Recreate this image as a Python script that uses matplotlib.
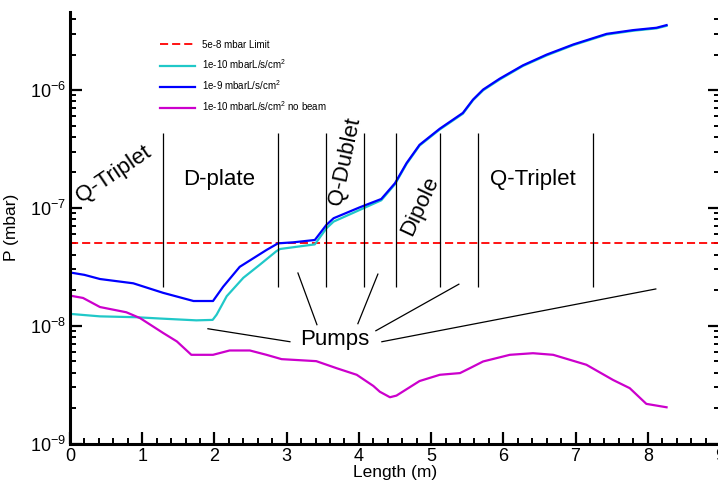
import numpy as np
import matplotlib
matplotlib.use("Agg")
import matplotlib.pyplot as plt
from matplotlib.ticker import MultipleLocator, LogLocator

plt.rcParams['font.family'] = ['Liberation Sans', 'DejaVu Sans']
plt.rcParams['mathtext.fontset'] = 'custom'
plt.rcParams['mathtext.rm'] = 'Liberation Sans'
plt.rcParams['mathtext.it'] = 'Liberation Sans:italic'
plt.rcParams['mathtext.bf'] = 'Liberation Sans:bold'

# pressure profiles along the beamline
blue_x = [0, 0.2, 0.415, 0.876, 1.29, 1.71, 1.98, 2.12, 2.35, 2.72, 2.88, 3.09, 3.39,
          3.55, 3.65, 4.01, 4.31, 4.50, 4.66, 4.84, 5.12, 5.44, 5.58, 5.72, 5.95,
          6.27, 6.60, 6.97, 7.43, 7.80, 8.12, 8.26]
blue_y = [2.83e-8, 2.7e-8, 2.49e-8, 2.29e-8, 1.90e-8, 1.62e-8, 1.62e-8, 2.14e-8, 3.16e-8,
          4.39e-8, 5.0e-8, 5.1e-8, 5.34e-8, 7.17e-8, 8.17e-8, 1.01e-7, 1.19e-7, 1.62e-7,
          2.40e-7, 3.43e-7, 4.7e-7, 6.4e-7, 8.3e-7, 1.01e-6, 1.25e-6, 1.62e-6, 2.0e-6,
          2.44e-6, 3.0e-6, 3.23e-6, 3.38e-6, 3.56e-6]

cyan_x = [0, 0.415, 0.92, 1.25, 1.75, 1.975, 2.03, 2.17, 2.40, 2.63, 2.86, 2.91, 3.39,
          3.55, 3.65, 4.01, 4.31, 4.50, 4.66, 4.84, 5.12, 5.44, 5.58, 5.72, 5.95, 6.27,
          6.60, 6.97, 7.43, 7.80, 8.12, 8.26]
cyan_y = [1.26e-8, 1.2e-8, 1.18e-8, 1.15e-8, 1.11e-8, 1.12e-8, 1.24e-8, 1.78e-8, 2.55e-8,
          3.3e-8, 4.3e-8, 4.48e-8, 4.9e-8, 6.7e-8, 7.65e-8, 9.6e-8, 1.16e-7, 1.59e-7,
          2.36e-7, 3.38e-7, 4.63e-7, 6.3e-7, 8.2e-7, 9.95e-7, 1.23e-6, 1.6e-6, 1.97e-6,
          2.41e-6, 2.96e-6, 3.19e-6, 3.34e-6, 3.51e-6]

mag_x = [0, 0.18, 0.415, 0.78, 0.97, 1.29, 1.48, 1.68, 1.98, 2.21, 2.49, 2.72, 2.93,
         3.41, 3.69, 3.97, 4.20, 4.29, 4.43, 4.52, 4.84, 5.12, 5.40, 5.55, 5.72, 6.09,
         6.41, 6.69, 7.15, 7.52, 7.75, 7.98, 8.26]
mag_y = [1.8e-8, 1.72e-8, 1.44e-8, 1.30e-8, 1.16e-8, 8.67e-9, 7.35e-9, 5.66e-9, 5.66e-9,
         6.16e-9, 6.16e-9, 5.66e-9, 5.2e-9, 5.0e-9, 4.36e-9, 3.83e-9, 3.08e-9, 2.75e-9,
         2.47e-9, 2.55e-9, 3.39e-9, 3.83e-9, 3.96e-9, 4.4e-9, 4.97e-9, 5.66e-9, 5.84e-9,
         5.66e-9, 4.66e-9, 3.46e-9, 2.95e-9, 2.17e-9, 2.03e-9]

limit = 5e-8
labels = ['5e-8 mbar Limit', '1e-10 mbarL/s/cm$^2$', '1e-9 mbarL/s/cm$^2$',
          '1e-10 mbarL/s/cm$^2$ no beam']

# element boundaries
sections = [1.29, 2.88, 3.55, 4.07, 4.51, 5.13, 5.65, 7.24]
sec_lo, sec_hi = 2.15e-8, 4.35e-7

# pump pointer lines: (x0, y0, x1, y1)
pumps = [(1.91, 9.42e-9, 3.045, 7.31e-9),
         (3.156, 2.80e-8, 3.419, 1.02e-8),
         (4.263, 2.74e-8, 3.986, 1.04e-8),
         (5.384, 2.25e-8, 4.235, 9.06e-9),
         (8.111, 2.05e-8, 4.318, 7.31e-9)]

fig = plt.figure(figsize=(7.18, 4.84), dpi=100)
ax = fig.add_axes([70 / 718, 40.5 / 484, 650 / 718, 431.5 / 484])
ax.set_yscale('log')

ax.axhline(limit, color='#ff0000', lw=1.3, dashes=(4.5, 2.2), label=labels[0])
ax.plot(cyan_x, cyan_y, color='#20c8c8', lw=1.6, label=labels[1])
ax.plot(blue_x, blue_y, color='#0000ff', lw=1.6, label=labels[2])
ax.plot(mag_x, mag_y, color='#cc00cc', lw=1.6, label=labels[3])

ax.vlines(sections, sec_lo, sec_hi, color='black', lw=0.9)
for x0, y0, x1, y1 in pumps:
    ax.plot([x0, x1], [y0, y1], color='black', lw=0.9)

fs = 16
ax.text(0.61, 1.94e-7, 'Q-Triplet', rotation=34, fontsize=fs, ha='center', va='center')
ax.text(2.06, 1.73e-7, 'D-plate', fontsize=fs, ha='center', va='center')
ax.text(3.81, 2.48e-7, 'Q-Dublet', rotation=78, fontsize=fs, ha='center', va='center')
ax.text(4.84, 1.04e-7, 'Dipole', rotation=65, fontsize=fs, ha='center', va='center')
ax.text(6.41, 1.73e-7, 'Q-Triplet', fontsize=fs, ha='center', va='center')
ax.text(3.67, 7.6e-9, 'Pumps', fontsize=fs, ha='center', va='center')

ax.set_xlim(0, 9)
ax.set_ylim(1e-9, 4.6e-6)
ax.xaxis.set_major_locator(MultipleLocator(1))
ax.xaxis.set_minor_locator(MultipleLocator(0.2))
ax.yaxis.set_major_locator(LogLocator(base=10))
ax.yaxis.set_minor_locator(LogLocator(base=10, subs=np.arange(2, 10)))

ax.spines['top'].set_visible(False)
for s in ['left', 'bottom', 'right']:
    ax.spines[s].set_linewidth(2.2)
ax.tick_params(which='both', direction='in', left=True, right=True, top=False,
               bottom=True, labelsize=13)
ax.tick_params(which='major', length=8.5, width=1.6, pad=3)
ax.tick_params(which='minor', length=4.5, width=1.4)

ax.set_xlabel('Length (m)', fontsize=12.5, labelpad=0)
ax.set_ylabel('P (mbar)', fontsize=12.5, labelpad=8)

ax.legend(loc='upper left', bbox_to_anchor=(155 / 718, 1 - 35 / 484),
          bbox_transform=fig.transFigure, frameon=False, fontsize=7,
          handlelength=3.6, handletextpad=0.7, labelspacing=0.75, borderpad=0)

fig.savefig('out.png', dpi=100)
